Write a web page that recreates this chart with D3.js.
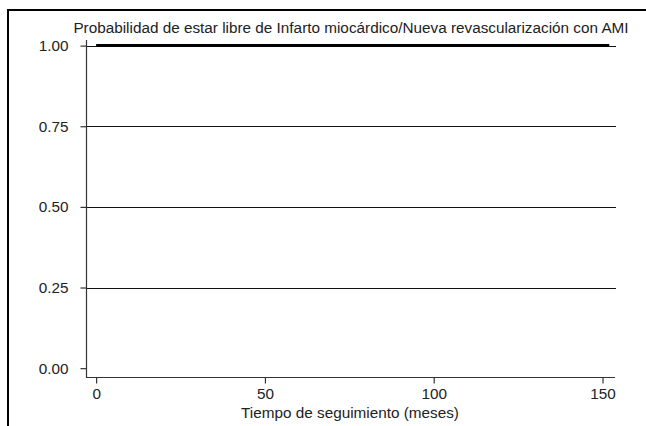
<!DOCTYPE html>
<html>
<head>
<meta charset="utf-8">
<script src="https://cdn.jsdelivr.net/npm/d3@7"></script>
<style>
  html, body { margin: 0; padding: 0; background: #fff; }
  svg { display: block; font-family: "Liberation Sans", Arial, sans-serif; }
</style>
</head>
<body>
<svg id="chart" width="646" height="426"></svg>
<script>
// Kaplan-Meier estimate: event-free probability over follow-up time
const months = [0, 152];
const survival = [1, 1];
const yTicks = [0, 0.25, 0.5, 0.75, 1];
const xTicks = [0, 50, 100, 150];
const titleText = "Probabilidad de estar libre de Infarto miocárdico/Nueva revascularización con AMI";
const xTitle = "Tiempo de seguimiento (meses)";

const fontSize = 15.3;
const svg = d3.select("#chart");

const x = d3.scaleLinear().domain([-3, 153.7]).range([86, 615]);
const y = d3.scaleLinear().domain([-0.0305, 1.0174]).range([378, 40]);

// outer frame (top and left edges)
svg.append("line").attr("x1", 8).attr("x2", 646).attr("y1", 10).attr("y2", 10)
  .attr("stroke", "#000").attr("stroke-width", 2);
svg.append("line").attr("x1", 8).attr("x2", 8).attr("y1", 9).attr("y2", 426)
  .attr("stroke", "#000").attr("stroke-width", 2);

// horizontal grid lines
svg.append("g").selectAll("line")
  .data(yTicks.filter(d => d > 0))
  .join("line")
  .attr("x1", x.range()[0]).attr("x2", x.range()[1] + 1)
  .attr("y1", d => Math.round(y(d)) + 0.5).attr("y2", d => Math.round(y(d)) + 0.5)
  .attr("stroke", "#111").attr("stroke-width", 1.2);

// y axis
const yAxis = svg.append("g")
  .attr("transform", `translate(${x.range()[0] + 0.5},0)`)
  .call(d3.axisLeft(y).tickValues(yTicks).tickFormat(d3.format(".2f")).tickSize(6).tickPadding(12));
yAxis.select(".domain").attr("stroke", "#333").attr("stroke-width", 1.2)
  .attr("d", `M0,${y.range()[0]}V${y.range()[1]}`);
yAxis.selectAll(".tick line").attr("stroke", "#333").attr("stroke-width", 1.2);
yAxis.selectAll(".tick text").attr("font-size", fontSize).attr("fill", "#222")
  .attr("font-family", "Liberation Sans, Arial, sans-serif");

// x axis
const xAxis = svg.append("g")
  .attr("transform", `translate(0,${y.range()[0] - 0.5})`)
  .call(d3.axisBottom(x).tickValues(xTicks).tickFormat(d3.format("d")).tickSize(6).tickPadding(5));
xAxis.select(".domain").attr("stroke", "#333").attr("stroke-width", 1.2)
  .attr("d", `M${x.range()[0]},0H${x.range()[1]}`);
xAxis.selectAll(".tick line").attr("stroke", "#333").attr("stroke-width", 1.2);
xAxis.selectAll(".tick text").attr("font-size", fontSize).attr("fill", "#222")
  .attr("font-family", "Liberation Sans, Arial, sans-serif");

// survival curve (step)
const curve = d3.line()
  .x((d, i) => x(months[i]))
  .y(d => y(d))
  .curve(d3.curveStepAfter);
svg.append("path")
  .datum(survival)
  .attr("d", curve)
  .attr("fill", "none")
  .attr("stroke", "#000")
  .attr("stroke-width", 3);

// titles
svg.append("text")
  .attr("x", 351).attr("y", 33)
  .attr("text-anchor", "middle")
  .attr("font-size", fontSize).attr("fill", "#222")
  .text(titleText);

svg.append("text")
  .attr("x", 350).attr("y", 418)
  .attr("text-anchor", "middle")
  .attr("font-size", fontSize).attr("fill", "#222")
  .text(xTitle);
</script>
</body>
</html>
